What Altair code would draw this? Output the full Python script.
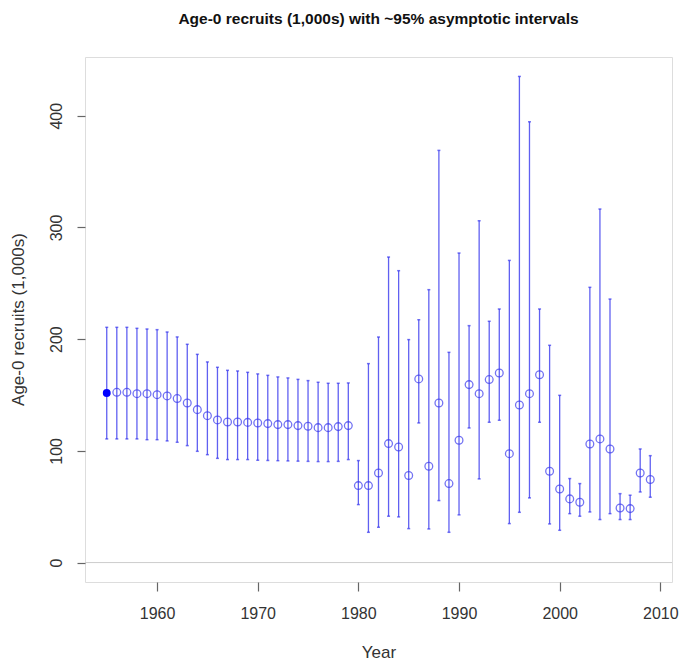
import altair as alt
import pandas as pd

years = list(range(1955, 2010))
est = [151.8, 152.4, 152.4, 151.2, 151.2, 150.3, 149.2, 146.8, 142.9, 136.9,
       131.5, 127.7, 125.9, 125.9, 125.5, 125.0, 124.4, 123.5, 123.5, 122.6,
       122.0, 120.8, 120.8, 121.7, 122.6,
       68.9, 68.9, 80.2, 106.5, 103.5, 77.9, 164.4, 86.2, 142.9, 70.7,
       109.5, 159.3, 151.2, 163.8, 169.7, 97.5, 141.1, 151.2, 168.2, 81.7,
       65.9, 57.0, 54.0, 106.2, 110.7, 101.7, 48.9, 48.3, 80.2, 74.3]
upper = [210.6, 210.6, 210.6, 209.7, 209.1, 208.5, 206.4, 202.0, 195.4, 186.4,
         179.6, 174.8, 172.1, 171.5, 170.3, 168.9, 167.6, 166.2, 165.3, 164.0,
         162.9, 161.4, 160.5, 160.5, 160.8,
         91.3, 178.1, 201.9, 273.5, 261.3, 199.6, 217.4, 244.3, 369.0, 188.2,
         277.1, 212.1, 306.0, 216.0, 227.0, 270.5, 435.2, 394.6, 227.0, 194.5,
         149.7, 75.2, 70.7, 246.4, 316.5, 235.9, 61.7, 60.3, 101.7, 95.7]
lower = [110.7, 110.7, 110.7, 110.7, 110.0, 110.0, 108.9, 107.7, 104.7, 99.6,
         96.6, 93.3, 92.2, 92.2, 92.2, 91.6, 91.4, 91.2, 91.0, 90.8,
         90.6, 90.4, 90.4, 90.6, 92.2,
         51.9, 27.1, 31.6, 41.5, 40.9, 30.4, 125.0, 30.1, 55.5, 27.1,
         42.7, 120.5, 74.9, 125.6, 127.4, 34.9, 45.0, 57.9, 125.6, 34.6,
         28.9, 43.8, 41.5, 45.3, 38.5, 43.8, 38.5, 38.5, 63.2, 58.5]

df = pd.DataFrame({"year": years, "est": est, "upper": upper, "lower": lower})
df["first"] = df["year"] == 1955

BLUE = "#3838ee"
FONT = "Liberation Sans"
xs = alt.Scale(domain=[1952.84, 2011.16], nice=False, zero=False)
ys = alt.Scale(domain=[-17.4, 452.6], nice=False, zero=False)

xax = alt.Axis(title="Year", values=[1960, 1970, 1980, 1990, 2000, 2010], format="d",
               grid=False, domain=False, tickSize=9, tickColor="#666", tickWidth=1.2,
               labelFontSize=16, labelColor="#333", labelPadding=14,
               labelFont=FONT, titleFont=FONT,
               titleFontSize=17, titleFontWeight="normal", titleColor="#333",
               titlePadding=23)
yax = alt.Axis(title="Age-0 recruits (1,000s)", values=[0, 100, 200, 300, 400],
               grid=False, domain=False, tickSize=8, tickColor="#666", tickWidth=1.2,
               labelFontSize=16, labelColor="#333", labelAngle=-90,
               labelAlign="center", labelBaseline="bottom", labelPadding=13,
               labelFont=FONT, titleFont=FONT,
               titleFontSize=17, titleFontWeight="normal", titleColor="#333",
               titleX=-67, titleY=262, titleAngle=-90, titleAlign="center",
               titleBaseline="middle")

base = alt.Chart(df)

zero = alt.Chart(pd.DataFrame({"z": [0]})).mark_rule(color="#cccccc", strokeWidth=1).encode(
    y=alt.Y("z:Q", scale=ys, axis=yax))

bars = base.mark_rule(color=BLUE, strokeWidth=1.3, opacity=0.8).encode(
    x=alt.X("year:Q", scale=xs, axis=xax),
    y=alt.Y("lower:Q", scale=ys),
    y2="upper:Q")

cap_hi = base.mark_tick(color=BLUE, size=3, thickness=1.5, orient="horizontal").encode(
    x=alt.X("year:Q", scale=xs), y=alt.Y("upper:Q", scale=ys))
cap_lo = base.mark_tick(color=BLUE, size=3, thickness=1.5, orient="horizontal").encode(
    x=alt.X("year:Q", scale=xs), y=alt.Y("lower:Q", scale=ys))

pts = base.transform_filter("!datum.first").mark_point(
    shape="circle", filled=False, color=BLUE, size=60, strokeWidth=1.3).encode(
    x=alt.X("year:Q", scale=xs), y=alt.Y("est:Q", scale=ys))

pt0 = base.transform_filter("datum.first").mark_point(
    shape="circle", filled=True, color="#0000ff", size=62, opacity=1).encode(
    x=alt.X("year:Q", scale=xs), y=alt.Y("est:Q", scale=ys))

chart = alt.layer(zero, bars, cap_hi, cap_lo, pts, pt0).properties(
    width=587, height=525,
    title=alt.TitleParams("Age-0 recruits (1,000s) with ~95% asymptotic intervals",
                          font=FONT, fontSize=15.5, fontWeight="bold",
                          color="#111", offset=30, anchor="middle"),
    autosize=alt.AutoSizeParams(type="none"),
    padding={"left": 85, "top": 57, "right": 10, "bottom": 89},
).configure_view(stroke="#666", strokeWidth=1.5).configure(background="white")

chart.save("out.html", embed_options={"renderer": "svg", "actions": False})
